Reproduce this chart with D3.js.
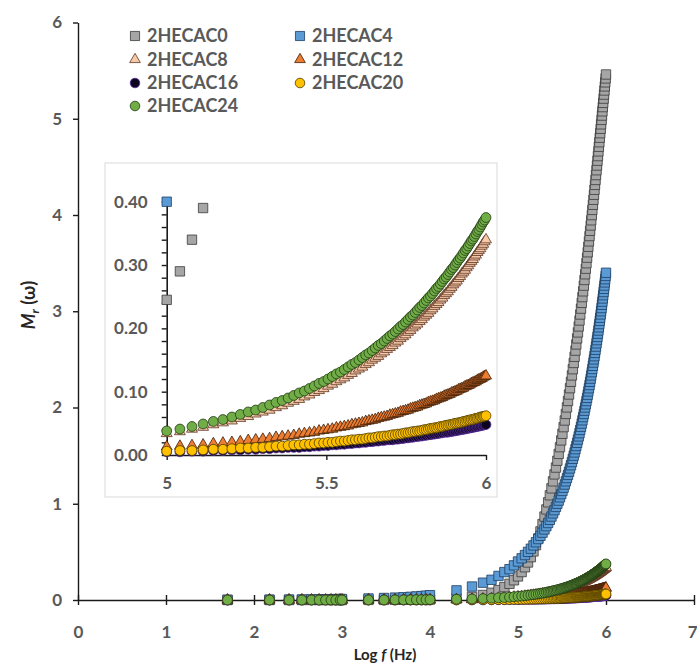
<!DOCTYPE html>
<html>
<head>
<meta charset="utf-8">
<script src="https://cdn.jsdelivr.net/npm/d3@7"></script>
<style>body{margin:0;background:#fff;}</style>
</head>
<body>
<script>
const width = 697;
const height = 665;

// measurement frequencies in kHz
const freqKHz = [0.05,0.15,0.25,0.35,0.45,0.55,0.65,0.75,0.85,0.95,1,
  2,3,4,5,6,7,8,9,10,
  20,30,40,50,60,70,80,90,
  100,110,120,130,140,150,160,170,180,190,
  200,210,220,230,240,250,260,270,280,290,
  300,310,320,330,340,350,360,370,380,390,
  400,410,420,430,440,450,460,470,480,490,
  500,510,520,530,540,550,560,570,580,590,
  600,610,620,630,640,650,660,670,680,690,
  700,710,720,730,740,750,760,770,780,790,
  800,810,820,830,840,850,860,870,880,890,
  900,910,920,930,940,950,960,970,980,990,
  1000];

// M' values per sample
const m0 = [0,0,0,0,0,0,0,0,0,0,0,
  0.001,0.001,0.002,0.002,0.003,0.003,0.004,0.004,0.005,
  0.016,0.032,0.052,0.075,0.103,0.134,0.168,0.205,
  0.245,0.29,0.34,0.39,0.445,0.505,0.57,0.64,0.713,0.789,
  0.867,0.941,1.015,1.088,1.160,1.233,1.305,1.376,1.447,1.518,
  1.588,1.658,1.727,1.796,1.865,1.933,2.001,2.068,2.135,2.201,
  2.267,2.333,2.398,2.463,2.527,2.591,2.655,2.718,2.780,2.842,
  2.904,2.966,3.027,3.087,3.147,3.207,3.266,3.325,3.384,3.442,
  3.499,3.557,3.613,3.670,3.726,3.781,3.836,3.891,3.945,3.999,
  4.053,4.106,4.158,4.210,4.262,4.313,4.364,4.415,4.465,4.514,
  4.564,4.612,4.661,4.709,4.756,4.803,4.850,4.896,4.942,4.988,
  5.033,5.077,5.121,5.165,5.209,5.251,5.294,5.336,5.378,5.419,
  5.460];

const m4 = [0.003,0.004,0.005,0.006,0.007,0.008,0.008,0.009,0.009,0.010,0.010,
  0.016,0.021,0.025,0.029,0.033,0.037,0.041,0.045,0.050,
  0.10,0.14,0.18,0.21,0.25,0.29,0.32,0.36,
  0.400,0.433,0.467,0.500,0.533,0.567,0.600,0.633,0.667,0.700,
  0.733,0.767,0.800,0.833,0.867,0.900,0.933,0.967,1.000,1.033,
  1.067,1.100,1.133,1.167,1.200,1.233,1.267,1.300,1.333,1.367,
  1.400,1.433,1.467,1.500,1.533,1.567,1.600,1.633,1.667,1.700,
  1.733,1.767,1.800,1.833,1.867,1.900,1.933,1.967,2.000,2.033,
  2.067,2.100,2.133,2.167,2.200,2.233,2.267,2.300,2.333,2.367,
  2.400,2.433,2.467,2.500,2.533,2.567,2.600,2.633,2.667,2.700,
  2.733,2.767,2.800,2.833,2.867,2.900,2.933,2.967,3.000,3.033,
  3.067,3.100,3.133,3.167,3.200,3.233,3.267,3.300,3.333,3.367,
  3.400];

const m8 = [0,0,0,0,0,0,0,0,0,0,0,
  0.001,0.001,0.001,0.002,0.002,0.002,0.003,0.003,0.003,
  0.007,0.010,0.014,0.017,0.020,0.024,0.027,0.031,
  0.034,0.037,0.041,0.044,0.048,0.051,0.054,0.058,0.061,0.065,
  0.068,0.071,0.075,0.078,0.082,0.085,0.088,0.092,0.095,0.099,
  0.102,0.105,0.109,0.112,0.116,0.119,0.122,0.126,0.129,0.133,
  0.136,0.139,0.143,0.146,0.150,0.153,0.156,0.160,0.163,0.167,
  0.170,0.173,0.177,0.180,0.184,0.187,0.190,0.194,0.197,0.201,
  0.204,0.207,0.211,0.214,0.218,0.221,0.224,0.228,0.231,0.235,
  0.238,0.241,0.245,0.248,0.252,0.255,0.258,0.262,0.265,0.269,
  0.272,0.275,0.279,0.282,0.286,0.289,0.292,0.296,0.299,0.303,
  0.306,0.309,0.313,0.316,0.320,0.323,0.326,0.330,0.333,0.337,
  0.340];

const m12 = [0,0,0,0,0,0,0,0,0,0,0,
  0,0,0.001,0.001,0.001,0.001,0.001,0.001,0.001,
  0.003,0.004,0.005,0.006,0.008,0.009,0.010,0.011,
  0.013,0.014,0.015,0.016,0.018,0.019,0.020,0.021,0.023,0.024,
  0.025,0.026,0.028,0.029,0.030,0.031,0.033,0.034,0.035,0.036,
  0.038,0.039,0.040,0.041,0.043,0.044,0.045,0.046,0.048,0.049,
  0.050,0.051,0.053,0.054,0.055,0.056,0.058,0.059,0.060,0.061,
  0.063,0.064,0.065,0.066,0.068,0.069,0.070,0.071,0.073,0.074,
  0.075,0.076,0.078,0.079,0.080,0.081,0.083,0.084,0.085,0.086,
  0.088,0.089,0.090,0.091,0.093,0.094,0.095,0.096,0.098,0.099,
  0.100,0.101,0.103,0.104,0.105,0.106,0.108,0.109,0.110,0.111,
  0.113,0.114,0.115,0.116,0.118,0.119,0.120,0.121,0.123,0.124,
  0.125];

const m16 = [0,0,0,0,0,0,0,0,0,0,0,
  0,0,0,0,0,0,0,0,0,
  0.001,0.001,0.002,0.002,0.003,0.003,0.004,0.004,
  0.005,0.005,0.006,0.006,0.007,0.007,0.008,0.008,0.009,0.009,
  0.010,0.010,0.011,0.011,0.012,0.012,0.012,0.013,0.013,0.014,
  0.014,0.015,0.015,0.016,0.016,0.017,0.017,0.018,0.018,0.019,
  0.019,0.020,0.020,0.021,0.021,0.022,0.022,0.023,0.023,0.024,
  0.024,0.024,0.025,0.025,0.026,0.026,0.027,0.027,0.028,0.028,
  0.029,0.029,0.030,0.030,0.031,0.031,0.032,0.032,0.033,0.033,
  0.034,0.034,0.035,0.035,0.036,0.036,0.036,0.037,0.037,0.038,
  0.038,0.039,0.039,0.040,0.040,0.041,0.041,0.042,0.042,0.043,
  0.043,0.044,0.044,0.045,0.045,0.046,0.046,0.047,0.047,0.048,
  0.048];

const m20 = [0,0,0,0,0,0,0,0,0,0,0,
  0,0,0,0,0,0,0,0,0.001,
  0.001,0.002,0.002,0.003,0.004,0.004,0.005,0.006,
  0.006,0.007,0.007,0.008,0.009,0.009,0.010,0.011,0.011,0.012,
  0.012,0.013,0.014,0.014,0.015,0.016,0.016,0.017,0.017,0.018,
  0.019,0.019,0.020,0.020,0.021,0.022,0.022,0.023,0.024,0.024,
  0.025,0.025,0.026,0.027,0.027,0.028,0.029,0.029,0.030,0.030,
  0.031,0.032,0.032,0.033,0.033,0.034,0.035,0.035,0.036,0.037,
  0.037,0.038,0.038,0.039,0.040,0.040,0.041,0.042,0.042,0.043,
  0.043,0.044,0.045,0.045,0.046,0.047,0.047,0.048,0.048,0.049,
  0.050,0.050,0.051,0.051,0.052,0.053,0.053,0.054,0.055,0.055,
  0.056,0.056,0.057,0.058,0.058,0.059,0.060,0.060,0.061,0.061,
  0.062];

const m24 = [0,0,0,0,0,0,0,0,0,0,0,
  0.001,0.001,0.002,0.002,0.002,0.003,0.003,0.003,0.004,
  0.008,0.011,0.015,0.019,0.023,0.026,0.030,0.034,
  0.038,0.041,0.045,0.049,0.053,0.056,0.060,0.064,0.068,0.071,
  0.075,0.079,0.083,0.086,0.090,0.094,0.098,0.101,0.105,0.109,
  0.113,0.116,0.120,0.124,0.128,0.131,0.135,0.139,0.143,0.146,
  0.150,0.154,0.158,0.161,0.165,0.169,0.173,0.176,0.180,0.184,
  0.188,0.191,0.195,0.199,0.203,0.206,0.210,0.214,0.218,0.221,
  0.225,0.229,0.233,0.236,0.240,0.244,0.248,0.251,0.255,0.259,
  0.263,0.266,0.270,0.274,0.278,0.281,0.285,0.289,0.293,0.296,
  0.300,0.304,0.308,0.311,0.315,0.319,0.323,0.326,0.330,0.334,
  0.338,0.341,0.345,0.349,0.353,0.356,0.360,0.364,0.368,0.371,
  0.375];

const seriesNames = ["2HECAC0", "2HECAC4", "2HECAC8", "2HECAC12", "2HECAC16", "2HECAC20", "2HECAC24"];
const seriesValues = [m0, m4, m8, m12, m16, m20, m24];

const mainXTicks = [0, 1, 2, 3, 4, 5, 6, 7];
const mainYTicks = [0, 1, 2, 3, 4, 5, 6];
const insetXTicks = [5, 5.5, 6];
const insetYTicks = [0, 0.1, 0.2, 0.3, 0.4];

// marker look per series
const styles = [
  { sym: d3.symbolSquare,   size: 88, fill: "#a6a6a6", stroke: "#3a3a3a" },
  { sym: d3.symbolSquare,   size: 88, fill: "#5b9bd5", stroke: "#1d3c5e" },
  { sym: d3.symbolTriangle, size: 52, fill: "#f6c9ab", stroke: "#5e3520" },
  { sym: d3.symbolTriangle, size: 52, fill: "#ed7d31", stroke: "#3e1e08" },
  { sym: d3.symbolCircle,   size: 76, fill: "#0c0520", stroke: "#5b2d9e" },
  { sym: d3.symbolCircle,   size: 76, fill: "#ffc000", stroke: "#4d3c00" },
  { sym: d3.symbolCircle,   size: 76, fill: "#70ad47", stroke: "#223a14" }
];

const logF = freqKHz.map(f => Math.log10(f * 1000));

const svg = d3.select("body").append("svg")
    .attr("width", width)
    .attr("height", height)
    .style("font-family", "Lato, 'Open Sans', sans-serif");

svg.append("rect").attr("width", width).attr("height", height).attr("fill", "#fff");

// ---- main chart ----
const x = d3.scaleLinear().domain([0, 7]).range([78, 694]);
const y = d3.scaleLinear().domain([0, 6]).range([600, 22.5]);

const yAxis = svg.append("g")
    .attr("transform", `translate(${x(0)},0)`)
    .call(d3.axisLeft(y).tickValues(mainYTicks).tickFormat(d3.format("d"))
        .tickSize(5).tickSizeOuter(0).tickPadding(11));

const xAxis = svg.append("g")
    .attr("transform", `translate(0,${y(0)})`)
    .call(d3.axisBottom(x).tickValues(mainXTicks).tickFormat(d3.format("d"))
        .tickSize(5).tickSizeOuter(0).tickPadding(21));
xAxis.selectAll(".tick line").attr("y1", -5).attr("y2", 5);
// last label sits against the right border
xAxis.selectAll(".tick text").filter(d => d === 7)
    .attr("text-anchor", "end").attr("x", 697 - x(7));

[xAxis, yAxis].forEach(a => {
  a.select(".domain").attr("stroke", "#1a1a1a").attr("stroke-width", 1.4);
  a.selectAll(".tick line").attr("stroke", "#1a1a1a").attr("stroke-width", 1.4);
  a.selectAll(".tick text").attr("fill", "#595959").attr("font-size", 17)
    .attr("font-weight", 700).attr("font-family", "Lato, sans-serif");
});

function drawSeries(g, xs, ys, keep) {
  seriesValues.forEach((vals, i) => {
    const st = styles[i];
    const pts = vals.map((v, j) => ({ lx: logF[j], v })).filter(keep);
    g.append("g").selectAll("path")
      .data(pts)
      .join("path")
      .attr("d", d3.symbol().type(st.sym).size(st.size))
      .attr("transform", d => `translate(${xs(d.lx)},${ys(d.v)})`)
      .attr("fill", st.fill)
      .attr("stroke", st.stroke)
      .attr("stroke-width", 0.8);
  });
}

drawSeries(svg.append("g"), x, y, d => true);

// axis titles
svg.append("text")
    .attr("x", 385).attr("y", 660)
    .attr("text-anchor", "middle")
    .attr("font-size", 15).attr("font-weight", 700).attr("fill", "#262626")
    .call(t => {
      t.append("tspan").text("Log ");
      t.append("tspan").attr("font-style", "italic").text("f");
      t.append("tspan").text(" (Hz)");
    });

svg.append("text")
    .attr("transform", "translate(35,305) rotate(-90)")
    .attr("text-anchor", "middle")
    .attr("font-size", 18).attr("font-weight", 700).attr("fill", "#262626")
    .call(t => {
      t.append("tspan").attr("font-style", "italic").text("M");
      t.append("tspan").attr("font-style", "italic").attr("font-size", 12).attr("dy", 4).text("r");
      t.append("tspan").attr("dy", -4).text(" (ω)");
    });

// legend
const legendPos = [[135, 36], [300, 36], [135, 59.5], [300, 59.5], [135, 83], [300, 83], [135, 106]];
const legend = svg.append("g");
seriesNames.forEach((name, i) => {
  const st = styles[i];
  const [lx, ly] = legendPos[i];
  legend.append("path")
    .attr("d", d3.symbol().type(st.sym).size(st.size * 0.95))
    .attr("transform", `translate(${lx},${ly})`)
    .attr("fill", st.fill).attr("stroke", st.stroke).attr("stroke-width", 0.8);
  legend.append("text")
    .attr("x", lx + 12).attr("y", ly).attr("dy", "0.36em")
    .attr("font-size", 18).attr("font-weight", 700).attr("fill", "#595959")
    .text(name);
});

// ---- inset ----
svg.append("rect")
    .attr("x", 105).attr("y", 163).attr("width", 392).attr("height", 334)
    .attr("fill", "#fff").attr("stroke", "#d9d9d9").attr("stroke-width", 1);

const ix = d3.scaleLinear().domain([5, 6]).range([166.7, 486]);
const iy = d3.scaleLinear().domain([0, 0.4]).range([455, 201.7]);

const insetMinor = d3.range(0, 21).map(k => k * 0.02);
const iyAxis = svg.append("g")
    .attr("transform", `translate(${ix(5)},0)`)
    .call(d3.axisLeft(iy).tickValues(insetMinor)
        .tickFormat(d => insetYTicks.some(t => Math.abs(t - d) < 1e-6) ? d3.format(".2f")(d) : "")
        .tickSize(5).tickSizeOuter(0).tickPadding(14));
const ixAxis = svg.append("g")
    .attr("transform", `translate(0,${iy(0)})`)
    .call(d3.axisBottom(ix).tickValues(insetXTicks).tickFormat(d => d)
        .tickSize(5).tickSizeOuter(0).tickPadding(17));

[ixAxis, iyAxis].forEach(a => {
  a.select(".domain").attr("stroke", "#1a1a1a").attr("stroke-width", 1.6);
  a.selectAll(".tick line").attr("stroke", "#1a1a1a").attr("stroke-width", 1.4);
  a.selectAll(".tick text").attr("fill", "#595959").attr("font-size", 17)
    .attr("font-weight", 700).attr("font-family", "Lato, sans-serif");
});

drawSeries(svg.append("g"), ix, iy, d => d.lx >= 4.999 && d.lx <= 6.001 && d.v <= 0.4005);
</script>
</body>
</html>
